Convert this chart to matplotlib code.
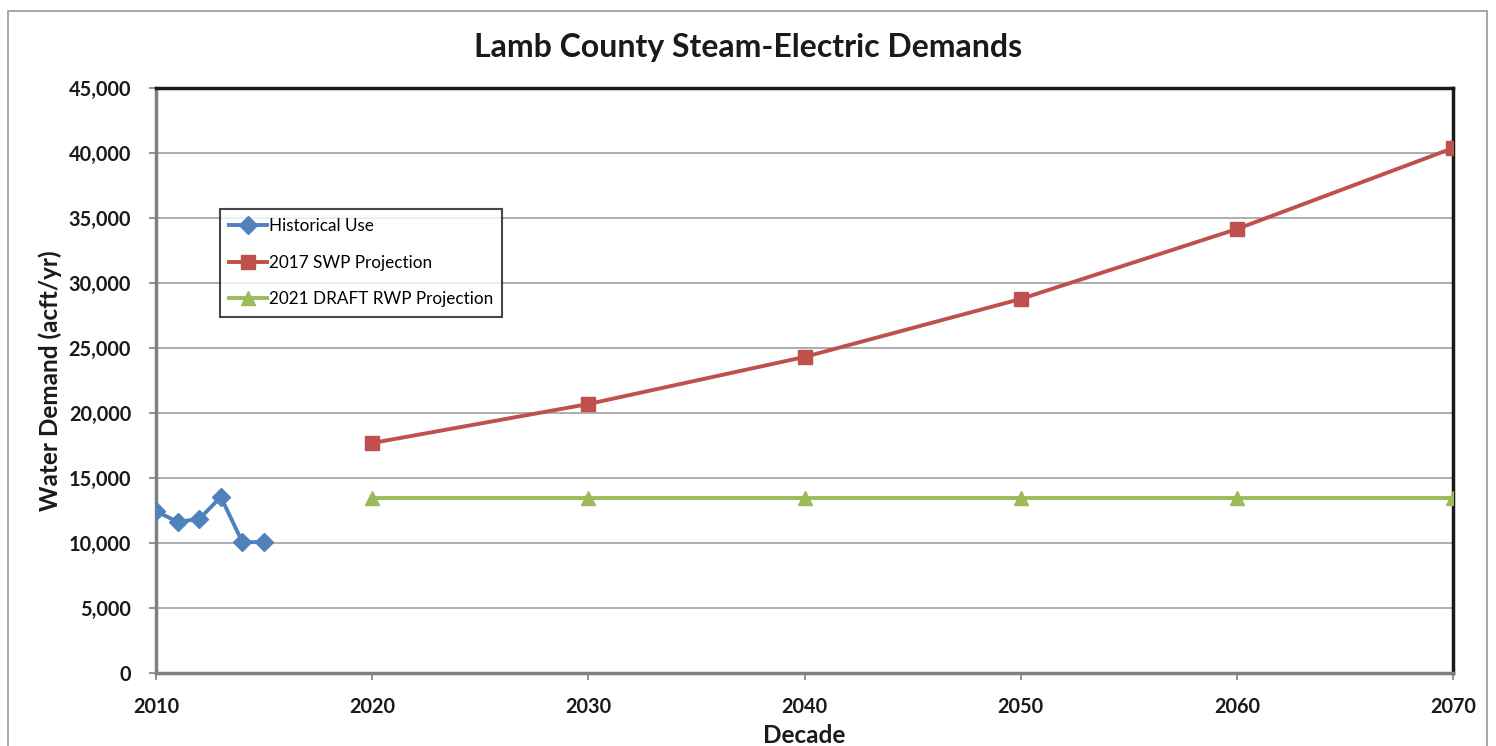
import matplotlib.pyplot as plt
import matplotlib.patches as patches

# data
hist_years = [2010, 2011, 2012, 2013, 2014, 2015]
hist_use = [12450, 11620, 11850, 13540, 10050, 10080]

decades = [2020, 2030, 2040, 2050, 2060, 2070]
swp_2017 = [17690, 20690, 24310, 28770, 34150, 40380]
rwp_2021 = [13460, 13460, 13460, 13460, 13460, 13460]

x_ticks = [2010, 2020, 2030, 2040, 2050, 2060, 2070]
y_ticks = list(range(0, 45001, 5000))

plt.rcParams['font.family'] = ['Lato', 'DejaVu Sans']

fig = plt.figure(figsize=(14.96, 7.46), dpi=100)
ax = fig.add_axes([156/1496, 73/746, (1453-156)/1496, (673-88)/746])

# outer chart border
fig.patches.append(patches.Rectangle((8/1496, -0.01), (1487-8)/1496, (746-11)/746 + 0.01,
                                     transform=fig.transFigure, fill=False,
                                     edgecolor='#9a9a9a', linewidth=1.2))

ax.plot(hist_years, hist_use, color='#4F81BD', linewidth=2.8, marker='D',
        markersize=9, label='Historical Use', zorder=4)
ax.plot(decades, swp_2017, color='#C0504D', linewidth=2.8, marker='s',
        markersize=10, label='2017 SWP Projection', zorder=4)
ax.plot(decades, rwp_2021, color='#9BBB59', linewidth=2.8, marker='^',
        markersize=10, label='2021 DRAFT RWP Projection', zorder=4)

ax.set_xlim(2010, 2070)
ax.set_ylim(0, 45000)
ax.set_xticks(x_ticks)
ax.set_yticks(y_ticks)
ax.set_yticklabels([f'{v:,}' for v in y_ticks])
ax.tick_params(axis='both', labelsize=14.3, length=5, width=1.2, color='#808080')
ax.tick_params(axis='x', pad=12)
ax.tick_params(axis='y', pad=13)
for lbl in ax.get_xticklabels() + ax.get_yticklabels():
    lbl.set_fontweight('bold')
    lbl.set_color('#1a1a1a')

ax.grid(axis='y', color='#a0a0a0', linewidth=1.2)
ax.set_axisbelow(True)

ax.spines['top'].set_color('#1a1a1a')
ax.spines['right'].set_color('#1a1a1a')
ax.spines['left'].set_color('#808080')
ax.spines['bottom'].set_color('#808080')
for s in ax.spines.values():
    s.set_linewidth(2.5)

fig.text(0.5, 1 - 47/746, 'Lamb County Steam-Electric Demands', fontsize=23,
         fontweight='bold', color='#1a1a1a', ha='center', va='center')
ax.set_xlabel('Decade', fontsize=17.5, fontweight='bold', color='#1a1a1a', labelpad=5)
ax.set_ylabel('Water Demand (acft/yr)', fontsize=17.5, fontweight='bold', color='#1a1a1a', labelpad=5)

leg = ax.legend(loc='upper left', bbox_to_anchor=((220-156)/1297, (673-209)/585),
                fontsize=12.3, frameon=True, fancybox=False, handlelength=2.2,
                handletextpad=0.1, labelspacing=1.2, borderpad=0.55, borderaxespad=0)
leg.get_frame().set_edgecolor('#1a1a1a')
leg.get_frame().set_linewidth(1.5)

plt.savefig('out.png', dpi=100)
